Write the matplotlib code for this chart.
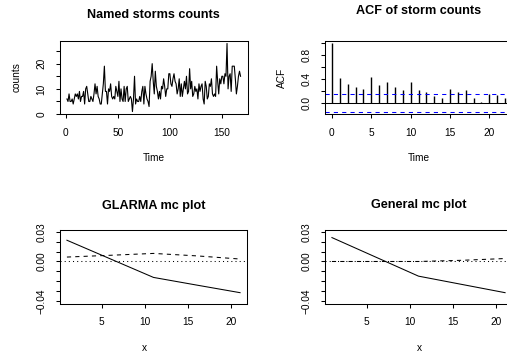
import numpy as np
import matplotlib
matplotlib.use("Agg")
from matplotlib import pyplot as plt

plt.rcParams['font.family'] = ['Liberation Sans', 'DejaVu Sans']

# yearly counts of named storms
counts = [6, 5, 8, 5, 5, 6, 4, 6, 8, 7,
          8, 6, 9, 5, 7, 7, 9, 4, 10, 11,
          8, 5, 5, 7, 6, 5, 8, 12, 8, 11,
          7, 6, 4, 4, 8, 12, 19, 9, 9, 4,
          10, 9, 12, 7, 6, 7, 6, 11, 9, 7,
          13, 5, 10, 6, 5, 11, 5, 10, 11, 5,
          6, 7, 6, 1, 6, 15, 4, 6, 5, 5,
          7, 5, 9, 11, 4, 11, 8, 6, 5, 3,
          13, 15, 20, 13, 8, 17, 11, 9, 6, 9,
          6, 11, 10, 14, 11, 7, 10, 10, 16, 16,
          12, 11, 14, 16, 13, 12, 8, 10, 14, 7,
          12, 7, 10, 13, 10, 15, 8, 9, 18, 10,
          13, 7, 8, 11, 9, 10, 6, 12, 9, 11,
          12, 6, 4, 13, 11, 6, 7, 12, 11, 14,
          8, 7, 8, 7, 19, 13, 8, 14, 12, 15,
          15, 12, 16, 15, 28, 10, 15, 16, 9, 19,
          19, 19, 14, 8, 11, 15, 17, 15]
time = list(range(1, len(counts) + 1))

# ACF
acf_lags = list(range(0, 23))
acf_vals = [1.0, 0.41, 0.32, 0.26, 0.22, 0.43, 0.30, 0.34, 0.26, 0.21,
            0.35, 0.21, 0.18, 0.11, 0.08, 0.23, 0.17, 0.21, 0.07, 0.01,
            0.15, 0.12, 0.07]
acf_ci = 0.151

# mc plots
mc_x = [1, 6, 11, 16, 21]
glarma_solid = [0.0216, 0.0027, -0.0162, -0.0240, -0.0317]
glarma_dash = [0.0045, 0.0063, 0.0082, 0.0057, 0.0025]
general_solid = [0.0243, 0.0047, -0.0149, -0.0233, -0.0317]
general_dash = [0.0, 0.0, 0.0, 0.0012, 0.0030]

W, H = 507, 358
fig = plt.figure(figsize=(W / 100, H / 100), dpi=100)

TICK = 7.3
TITLE = 9.1
LW = 0.75


def add_ax(x0, y0, x1, y1):
    # pixel box -> figure fraction
    ax = fig.add_axes([x0 / W, 1 - y1 / H, (x1 - x0) / W, (y1 - y0) / H])
    for s in ax.spines.values():
        s.set_linewidth(LW)
    ax.tick_params(direction='out', length=3.1, width=LW, labelsize=TICK, pad=6.5)
    ax.tick_params(axis='y', labelrotation=90)
    for lab in ax.get_yticklabels():
        lab.set_va('center')
    return ax


def fix_ylabels(ax):
    for lab in ax.get_yticklabels():
        lab.set_va('center')


def ftext(x, y, s, **kw):
    fig.text(x / W, 1 - y / H, s, ha='center', va='center', **kw)


# ---- Named storms counts
ax1 = add_ax(60, 40.7, 247.5, 114.3)
ax1.plot(time, counts, color='black', lw=0.8)
ax1.set_xlim(-5.7, 174.7)
ax1.set_ylim(-0.08, 29.1)
ax1.set_xticks([0, 50, 100, 150])
ax1.set_yticks([0, 5, 10, 15, 20, 25])
ax1.set_yticklabels(['0', '', '10', '', '20', ''])
fix_ylabels(ax1)
ftext(153.5, 14.5, 'Named storms counts', fontsize=TITLE, fontweight='bold')
ftext(153.5, 158.5, 'Time', fontsize=TICK)
ftext(16.7, 77, 'counts', fontsize=TICK, rotation=90)

# ---- ACF
ax2 = add_ax(325, 40.7, 512, 114.3)
ax2.vlines(acf_lags, 0, acf_vals, color='black', lw=1.0)
ax2.axhline(0, color='black', lw=LW)
ax2.axhline(acf_ci, color='blue', lw=LW, ls=(0, (4, 4)))
ax2.axhline(-acf_ci, color='blue', lw=LW, ls=(0, (4, 4)))
ax2.set_xlim(-0.88, 22.88)
ax2.set_ylim(-0.197, 1.04)
ax2.set_xticks([0, 5, 10, 15, 20])
ax2.set_yticks([0.0, 0.2, 0.4, 0.6, 0.8, 1.0])
ax2.set_yticklabels(['0.0', '', '0.4', '', '0.8', ''])
fix_ylabels(ax2)
ftext(419, 10.5, 'ACF of storm counts', fontsize=TITLE, fontweight='bold')
ftext(419, 158.5, 'Time', fontsize=TICK)
ftext(282, 77.5, 'ACF', fontsize=TICK, rotation=90)

# ---- GLARMA mc plot
mc_yticks = [-0.04, -0.03, -0.02, -0.01, 0.0, 0.01, 0.02, 0.03]
mc_ylabels = ['-0.04', '', '', '', '0.00', '', '', '0.03']

ax3 = add_ax(60, 230, 247, 303.5)
ax3.plot(mc_x, glarma_solid, color='black', lw=LW)
ax3.plot(mc_x, glarma_dash, color='black', lw=LW, ls=(0, (4, 4)))
ax3.axhline(0, color='black', lw=LW, ls=(0, (1, 3)))
ax3.set_xlim(0.2, 21.8)
ax3.set_ylim(-0.0427, 0.032)
ax3.set_xticks([5, 10, 15, 20])
ax3.set_yticks(mc_yticks)
ax3.set_yticklabels([s.replace('-', '\u2212') for s in mc_ylabels])
fix_ylabels(ax3)
ftext(153.5, 205.5, 'GLARMA mc plot', fontsize=TITLE, fontweight='bold')
ftext(144, 348, 'x', fontsize=TICK)

# ---- General mc plot
ax4 = add_ax(325, 230, 512, 303.5)
ax4.plot(mc_x, general_solid, color='black', lw=LW)
ax4.plot(mc_x, general_dash, color='black', lw=LW, ls=(0, (4, 4)))
ax4.axhline(0, color='black', lw=LW, ls=(0, (1, 3)))
ax4.set_xlim(0.2, 21.8)
ax4.set_ylim(-0.0427, 0.032)
ax4.set_xticks([5, 10, 15, 20])
ax4.set_yticks(mc_yticks)
ax4.set_yticklabels([s.replace('-', '\u2212') for s in mc_ylabels])
fix_ylabels(ax4)
ftext(419, 205, 'General mc plot', fontsize=TITLE, fontweight='bold')
ftext(419, 348, 'x', fontsize=TICK)

fig.savefig('out.png', dpi=100)
